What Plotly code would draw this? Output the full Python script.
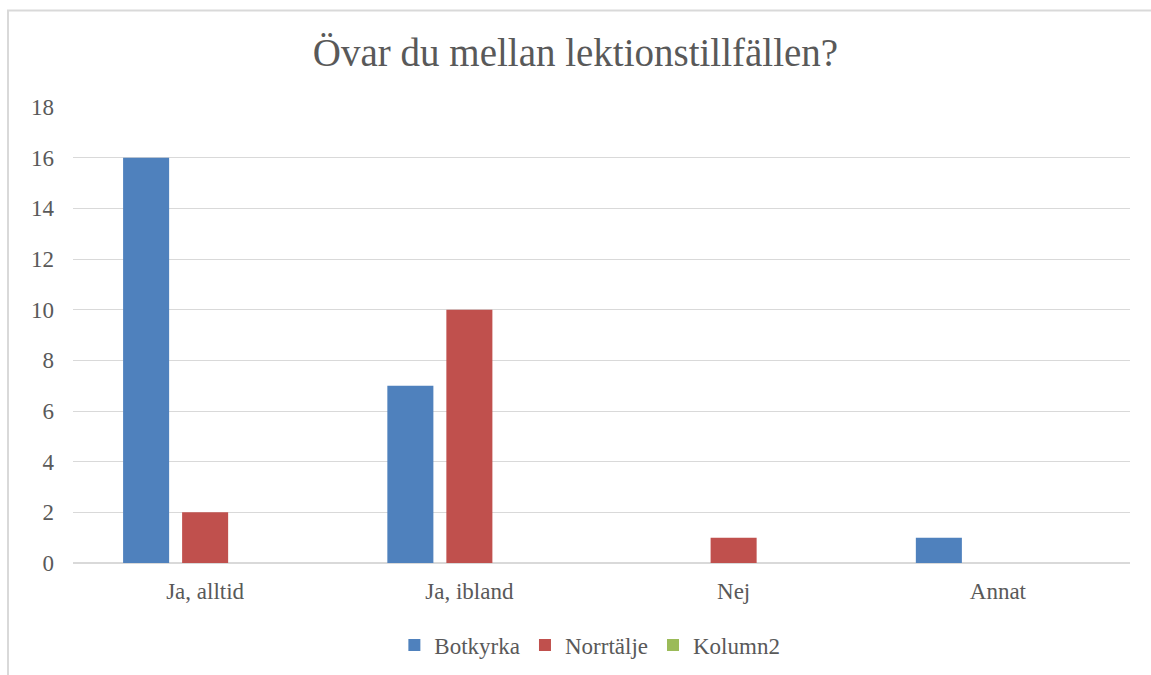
import plotly.graph_objects as go

categories = ['Ja, alltid', 'Ja, ibland', 'Nej', 'Annat']
botkyrka = [16, 7, 0, 1]
norrtalje = [2, 10, 1, 0]
kolumn2 = [0, 0, 0, 0]
y_ticks = [0, 2, 4, 6, 8, 10, 12, 14, 16, 18]

FONT = 'Liberation Serif'
TEXT = '#595959'
GRID = '#d9d9d9'

fig = go.Figure()
series = [
    ('Botkyrka', botkyrka, '#4F81BD'),
    ('Norrtälje', norrtalje, '#C0504D'),
    ('Kolumn2', kolumn2, '#9BBB59'),
]
for name, vals, color in series:
    fig.add_trace(go.Bar(
        x=categories, y=vals, name=name,
        marker=dict(color=color, line=dict(width=0)),
    ))

fig.update_layout(
    width=1151, height=675,
    barmode='group', bargap=0.33, bargroupgap=0.22,
    margin=dict(l=73, r=21, t=107, b=112, autoexpand=False),
    paper_bgcolor='white', plot_bgcolor='white',
    font=dict(family=FONT, color=TEXT, size=20),
    title=dict(text='Övar du mellan lektionstillfällen?', x=0.5, xanchor='center',
               y=1 - 52 / 675, yanchor='middle',
               font=dict(family=FONT, size=39, color=TEXT)),
    legend=dict(orientation='h', x=0.489, xanchor='center', y=-0.18, yanchor='middle',
                font=dict(size=23), traceorder='normal', itemwidth=30),
    showlegend=True,
    # light chart-area frame, left and top edges visible
    shapes=[dict(type='rect', xref='paper', yref='paper',
                 x0=-0.0615, x1=1.05, y0=-0.4, y1=1.2116,
                 line=dict(color=GRID, width=2), layer='below')],
)
fig.update_yaxes(range=[0, 18], tickvals=y_ticks, showgrid=True, gridcolor=GRID,
                 gridwidth=1, zeroline=True, zerolinecolor=GRID, zerolinewidth=2,
                 showline=False, ticks='', ticklabelstandoff=18, tickfont=dict(size=23))
fig.update_xaxes(showgrid=False, showline=False, ticks='', ticklabelstandoff=12,
                 tickfont=dict(size=23))

# drop the default 8px body margin so the figure sits at the page corner
fig.write_html('out.html', config={'displayModeBar': False},
               post_script="document.body.style.margin='0';")
